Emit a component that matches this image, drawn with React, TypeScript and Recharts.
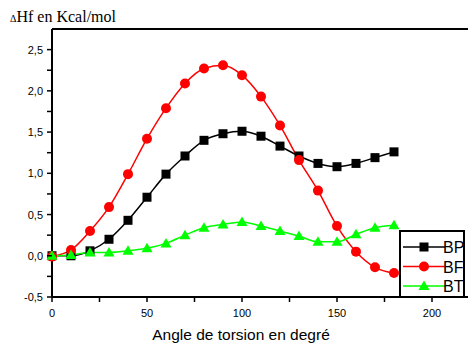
import React from 'react'
import { LineChart, Line, XAxis, YAxis, ReferenceLine } from 'recharts'

const angles = [0, 10, 20, 30, 40, 50, 60, 70, 80, 90, 100, 110, 120, 130, 140, 150, 160, 170, 180]
const bp = [0.0, 0.0, 0.06, 0.2, 0.43, 0.71, 0.99, 1.21, 1.4, 1.48, 1.51, 1.45, 1.33, 1.21, 1.12, 1.08, 1.12, 1.19, 1.26]
const bf = [-0.01, 0.07, 0.3, 0.59, 0.99, 1.42, 1.79, 2.09, 2.27, 2.31, 2.19, 1.93, 1.58, 1.16, 0.79, 0.36, 0.05, -0.14, -0.21]
const bt = [0.0, 0.01, 0.04, 0.04, 0.06, 0.09, 0.15, 0.25, 0.34, 0.38, 0.41, 0.36, 0.3, 0.24, 0.17, 0.17, 0.26, 0.34, 0.37]

const xTicks = [0, 25, 50, 75, 100, 125, 150, 175, 200]
const yTicks = [-0.5, -0.25, 0, 0.25, 0.5, 0.75, 1, 1.25, 1.5, 1.75, 2, 2.25, 2.5]

const data = angles.map((a, i) => ({ angle: a, BP: bp[i], BF: bf[i], BT: bt[i] }))

const FONT = '"Liberation Sans", Arial, sans-serif'

const Square = (props: any) => {
  const { cx, cy } = props
  if (cx == null || cy == null) return null
  return <rect x={cx - 4.5} y={cy - 4.5} width={9} height={9} fill="#000" />
}
const Circle = (props: any) => {
  const { cx, cy } = props
  if (cx == null || cy == null) return null
  return <circle cx={cx} cy={cy} r={5} fill="#ff0000" />
}
const Triangle = (props: any) => {
  const { cx, cy } = props
  if (cx == null || cy == null) return null
  return <path d={`M${cx},${cy - 5.5} L${cx + 5.5},${cy + 4} L${cx - 5.5},${cy + 4} Z`} fill="#00ff00" />
}

const YTick = (props: any) => {
  const { x, y, payload } = props
  const v = payload.value
  const major = Math.abs(v * 2 - Math.round(v * 2)) < 1e-6
  return (
    <g>
      <line x1={x} x2={x - 5} y1={y} y2={y} stroke="#000" strokeWidth={1.5} />
      {major && (
        <text x={x - 9} y={y + 4} textAnchor="end" fontSize={11} fontFamily={FONT} fill="#000">
          {v.toFixed(1).replace('.', ',')}
        </text>
      )}
    </g>
  )
}

const XTick = (props: any) => {
  const { x, y, payload } = props
  const v = payload.value
  return (
    <g>
      <line x1={x} x2={x} y1={y} y2={y + 5} stroke="#000" strokeWidth={1.5} />
      {v % 50 === 0 && (
        <text x={x} y={y + 20} textAnchor="middle" fontSize={11} fontFamily={FONT} fill="#000">
          {v}
        </text>
      )}
    </g>
  )
}

const legendItems = [
  { name: 'BP', color: '#000', Dot: Square },
  { name: 'BF', color: '#ff0000', Dot: Circle },
  { name: 'BT', color: '#00ff00', Dot: Triangle },
]

const LegendBox = () => (
  <div style={{ position: 'absolute', left: 399, top: 230, width: 66, height: 68, border: '2px solid #000', background: '#fff', boxSizing: 'border-box', overflow: 'hidden' }}>
    <svg width={64} height={66} style={{ display: 'block' }}>
      {legendItems.map((it, i) => {
        const y = 15 + i * 19.5
        return (
          <g key={it.name}>
            <line x1={2} x2={44} y1={y} y2={y} stroke={it.color} strokeWidth={1.5} />
            <it.Dot cx={23} cy={y} />
            <text x={42} y={y + 6} fontSize={16} fontFamily={FONT} fill="#000">
              {it.name}
            </text>
          </g>
        )
      })}
    </svg>
  </div>
)

export default function App() {
  return (
    <div style={{ position: 'absolute', left: 0, top: 0, width: 468, height: 345, background: '#fff', overflow: 'hidden' }}>
      <LineChart width={470} height={345} data={data} margin={{ top: 29, right: 0, left: 0, bottom: 18 }}>
        <XAxis
          dataKey="angle"
          type="number"
          domain={[0, 220]}
          ticks={xTicks}
          interval={0}
          axisLine={{ stroke: '#000', strokeWidth: 2 }}
          tickLine={false}
          tickSize={0}
          tickMargin={0}
          tick={<XTick />}
          height={30}
        />
        <YAxis
          type="number"
          domain={[-0.5, 2.75]}
          ticks={yTicks}
          interval={0}
          axisLine={{ stroke: '#000', strokeWidth: 2 }}
          tickLine={false}
          tickSize={0}
          tickMargin={0}
          tick={<YTick />}
          width={52}
        />
        <ReferenceLine y={2.75} stroke="#000" strokeWidth={2} />
        <Line type="monotone" dataKey="BP" stroke="#000" strokeWidth={1.5} dot={<Square />} isAnimationActive={false} />
        <Line type="monotone" dataKey="BF" stroke="#ff0000" strokeWidth={1.5} dot={<Circle />} isAnimationActive={false} />
        <Line type="monotone" dataKey="BT" stroke="#00ff00" strokeWidth={1.5} dot={<Triangle />} isAnimationActive={false} />
      </LineChart>
      <LegendBox />
      <div style={{ position: 'absolute', left: 10, top: 8, fontFamily: '"Liberation Serif", "Times New Roman", serif', fontSize: 16, color: '#000', whiteSpace: 'nowrap' }}>
        <span style={{ fontSize: 10 }}>Δ</span>Hf en Kcal/mol
      </div>
      <div style={{ position: 'absolute', left: 0, width: 482, top: 326, textAlign: 'center', fontFamily: FONT, fontSize: 15.5, color: '#000' }}>
        Angle de torsion en degré
      </div>
    </div>
  )
}
